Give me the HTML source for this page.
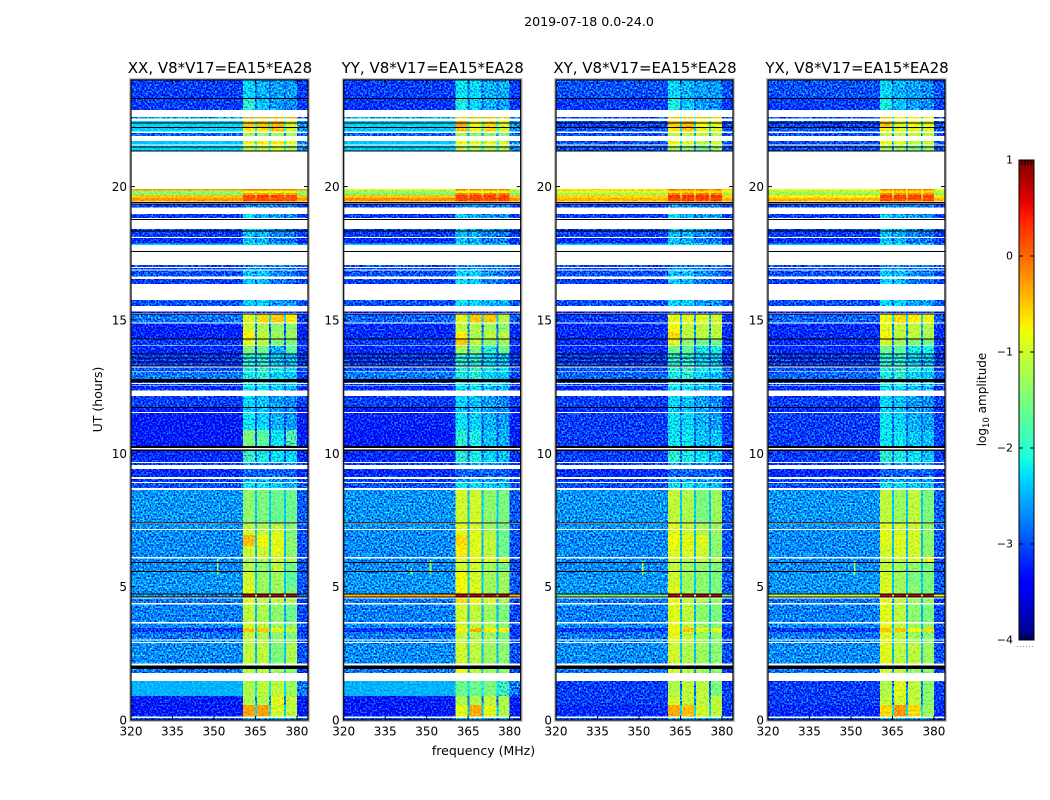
<!DOCTYPE html>
<html>
<head>
<meta charset="utf-8">
<title>2019-07-18 0.0-24.0</title>
<style>
html,body{margin:0;padding:0;background:#fff;}
svg{display:block;font-family:"DejaVu Sans","Liberation Sans",sans-serif;fill:#000;}
</style>
</head>
<body>
<svg id="figure" xmlns="http://www.w3.org/2000/svg" width="1050" height="800" viewBox="0 0 1050 800">
  <defs>
    <filter id="grain-strong" filterUnits="userSpaceOnUse" x="0" y="0" width="1050" height="800" color-interpolation-filters="sRGB">
      <feTurbulence type="fractalNoise" baseFrequency="0.58" numOctaves="1" seed="7" result="t"/>
      <feColorMatrix in="t" type="matrix" values="0.5 0 0 0 0.25  2.4 0 0 0 -0.7  0.8 0 0 0 0.1  0 0 0 0 1" result="n"/>
      <feComposite in="SourceGraphic" in2="n" operator="arithmetic" k1="0" k2="1" k3="1" k4="-0.5" result="m"/>
      <feComposite in="m" in2="SourceAlpha" operator="in"/>
    </filter>
    <filter id="grain-soft" filterUnits="userSpaceOnUse" x="0" y="0" width="1050" height="800" color-interpolation-filters="sRGB">
      <feTurbulence type="fractalNoise" baseFrequency="0.5" numOctaves="1" seed="11" result="t"/>
      <feColorMatrix in="t" type="matrix" values="0.3 0 0 0 0.35  0.6 0 0 0 0.2  0.3 0 0 0 0.35  0 0 0 0 1" result="n"/>
      <feComposite in="SourceGraphic" in2="n" operator="arithmetic" k1="0" k2="1" k3="1" k4="-0.5" result="m"/>
      <feComposite in="m" in2="SourceAlpha" operator="in"/>
    </filter>
    <linearGradient id="jet-gradient" x1="0" y1="1" x2="0" y2="0"></linearGradient>
  </defs>
  <text x="589" y="26" font-size="12.6" text-anchor="middle">2019-07-18 0.0-24.0</text>
  <text x="483.5" y="755" font-size="12.5" text-anchor="middle">frequency (MHz)</text>
  <text transform="translate(102,399.5) rotate(-90)" font-size="12.5" text-anchor="middle">UT (hours)</text>
  <text transform="translate(986,399.5) rotate(-90)" font-size="12" text-anchor="middle">log<tspan font-size="8.5" dy="3">10</tspan><tspan dy="-3"> amplitude</tspan></text>
  <g id="panels"></g>
  <g id="colorbar"></g>
  <line x1="1017" y1="646.5" x2="1035" y2="646.5" stroke="#999" stroke-width="1" stroke-dasharray="1 2"></line>
</svg>
<script>
// ---- axis values ----
const xTicks = [320, 335, 350, 365, 380];
const yTicks = [0, 5, 10, 15, 20];
const colorTicks = [1, 0, -1, -2, -3, -4];
const panelTitles = ['XX, V8*V17=EA15*EA28', 'YY, V8*V17=EA15*EA28', 'XY, V8*V17=EA15*EA28', 'YX, V8*V17=EA15*EA28'];

// frequency channel edges (MHz): off-band | sub-band 1 | gap | 2 | gap | 3 | gap | 4 | off-band
const freqEdges = [320, 360.5, 364.8, 365.5, 369.9, 370.6, 375.3, 376, 380, 384];

// time bands with data [start, end] in UT hours; anything not listed is missing (white)
const bandHours = [
[24,23.32],[23.32,22.87],[22.6,22.56],[22.46,22.24],[22.24,22.07],[22,21.9],[21.71,21.58],[21.54,21.34],
[19.91,19.86],[19.86,19.76],[19.76,19.69],[19.69,19.57],[19.57,19.44],[19.33,19.21],[18.97,18.83],
[18.41,18.11],[18.07,17.87],[17.87,17.81],[17.06,16.99],[16.95,16.89],[16.85,16.62],[16.54,16.35],
[15.75,15.53],[15.31,15.26],[15.2,14.9],[14.86,14.55],[14.55,14.31],[14.31,14.05],[14.02,13.74],
[13.74,13.26],[13.22,13.09],[13.06,12.79],[12.67,12.63],[12.59,12.55],[12.52,12.35],[12.15,11.74],
[11.74,11.55],[11.51,10.87],[10.87,10.27],[10.09,9.67],[9.64,9.57],[9.41,9.11],[9.04,8.92],[8.89,8.7],
[8.62,7.4],[7.34,7.16],[7.12,6.94],[6.94,6.52],[6.52,6.11],[6.06,5.92],[5.91,5.57],[5.57,5.02],[5.02,4.74],
[4.72,4.63],[4.56,4.38],[4.33,3.67],[3.62,3.45],[3.45,3.3],[3.3,3.02],[2.98,2.92],[2.89,2.12],[1.92,1.77],
[1.46,0.9],[0.9,0.56],[0.56,0.13],[0.07,0]
];

// flagged (black) integrations [start, end] in UT hours
const flaggedHours = [
[23.33,23.3],[22.41,22.38],[22.24,22.21],[21.5,21.47],[21.35,21.32],[19.43,19.4],[19.37,19.34],[18.78,18.75],
[18.36,18.33],[17.59,17.56],[15.25,15.22],[14.31,14.28],[13.74,13.71],[13.6,13.57],[13.45,13.42],[13.3,13.27],
[12.79,12.67],[11.74,11.71],[10.27,10.2],[10.14,10.09],[7.4,7.36],[5.93,5.9],[5.58,5.55],[4.75,4.72],[4.63,4.6],
[2.04,1.92]
];

// log10 amplitude per band: [off-band, sub-band 1, 2, 3, 4]
const xxLevels = [
[-3.1,-2.3,-2.5,-2.6,-2.6],[-3.1,-2,-2.4,-2.6,-2.7],[-2.6,-0.4,-0.4,-0.4,-0.4],[-2.35,-0.5,-0.5,-0.4,-0.9],
[-2.35,-0.7,-0.6,-0.5,-1],[-2.9,-1.3,-1.3,-1.3,-1.3],[-2.4,-0.9,-0.7,-0.7,-0.9],[-2.35,-1.1,-1.1,-1,-1.2],
[-0.3,-0.1,-0.1,-0.1,-0.1],[-1.3,-0.8,-0.8,-0.8,-0.8],[-1.5,-0.3,-0.3,-0.3,-0.3],[-0.5,0.15,0.2,0.15,0.15],
[-0.25,0.1,0.15,0.1,0.1],[-3.1,-2.7,-2.7,-2.8,-2.8],[-3.1,-2.2,-2.5,-2.6,-2.6],
[-3.1,-2.4,-2.5,-2.7,-2.8],[-3.2,-2.4,-2.5,-2.8,-2.8],[-2.4,-2.2,-2.2,-2.3,-2.3],[-3,-2.7,-2.7,-2.8,-2.8],
[-3.1,-2.8,-2.8,-2.9,-2.9],[-3,-2.4,-2.4,-2.7,-2.8],[-3.1,-2.3,-2.4,-2.8,-2.9],
[-3,-2.3,-2.3,-2.6,-2.6],[-3.4,-3,-3,-3,-3],[-2.8,-0.9,-0.6,-0.5,-0.7],[-3.25,-1,-1.2,-1.4,-1.4],
[-3.25,-0.7,-1.1,-1.3,-1.3],[-3.1,-0.9,-1.1,-1.5,-1.5],[-3.2,-1.5,-1.6,-2.5,-1.7],
[-3.1,-2,-2,-2.3,-2.4],[-3,-2,-1.9,-2.1,-2.2],[-2.8,-2.1,-2,-2.3,-2.4],[-3.1,-2,-2,-2.2,-2.3],[-3.1,-2.2,-2.2,-2.3,-2.4],
[-3.2,-2.2,-2.2,-2.4,-2.5],[-3.1,-2.3,-2.4,-2.6,-2.7],
[-3.3,-2.4,-2.4,-2.6,-2.7],[-3.3,-2.2,-2.3,-2.5,-2.6],[-3.3,-1.5,-1.7,-2.2,-1.8],[-3.2,-1.9,-2.1,-2.2,-2.3],[-3.1,-2.6,-2.6,-2.7,-2.7],
[-3.2,-2.9,-2.9,-2.9,-2.9],[-3.1,-2.5,-2.5,-2.6,-2.6],[-3,-2.2,-2.2,-2.3,-2.4],
[-2.65,-1.4,-1.5,-1.6,-1.6],[-2.65,-1.1,-1.2,-1.1,-1.4],[-2.7,-1,-1.1,-1,-1.5],[-2.7,-0.45,-0.8,-0.9,-1.4],[-2.7,-1,-1,-0.9,-1.4],
[-2.7,-1.2,-1.2,-1.1,-1.2],[-2.7,-1.2,-1.4,-1.1,-1.6],[-2.65,-1,-1.3,-1.3,-1.7],[-2.65,-0.9,-1.3,-1.3,-1.5],
[-2.6,0.8,0.8,0.8,0.8],[-2.8,-0.9,-1.1,-1.1,-1.2],[-2.75,-1.1,-1.2,-1.4,-1.6],[-2.7,-1,-1.1,-1.3,-1.4],[-3.15,-0.5,-0.5,-0.9,-1],
[-2.8,-1.1,-1.2,-1.4,-1.5],[-2.7,-1.1,-1.1,-1.3,-1.4],[-2.7,-1.1,-1.1,-1.5,-1.2],[-2.8,-1.1,-1.1,-1.3,-1.4],
[-2.5,-1.2,-1.1,-1.1,-1.3],[-3.3,-1.2,-1.2,-0.9,-1.1],[-3.3,-0.3,-0.3,-1,-1.1],[-3,-2.4,-2.4,-2.5,-2.5]
];
const yyLevels = [
[-3.1,-2.2,-2.3,-2.5,-2.5],[-3.15,-2.1,-2.3,-2.5,-2.6],[-2.6,-0.6,-0.5,-0.5,-0.6],[-2.35,-0.35,-0.8,-0.6,-0.9],
[-2.4,-0.5,-0.8,-0.6,-1],[-2.9,-1.3,-1.4,-1.4,-1.4],[-2.4,-0.8,-0.9,-0.9,-1],[-2.4,-1.1,-1.2,-1.2,-1.2],
[-0.9,-0.1,-0.1,-0.1,-0.1],[-1.3,-0.8,-0.8,-0.8,-0.8],[-1.5,-0.1,-0.1,-0.1,-0.1],[-0.5,0.2,0.2,0.2,0.2],
[-0.2,0.15,0.15,0.15,0.15],[-3.1,-2.7,-2.7,-2.8,-2.8],[-3.1,-2.3,-2.5,-2.6,-2.6],
[-3.1,-2.4,-2.5,-2.7,-2.8],[-3.2,-2.4,-2.5,-2.8,-2.8],[-2.4,-2.2,-2.2,-2.3,-2.3],[-3,-2.7,-2.7,-2.8,-2.8],
[-3.1,-2.8,-2.8,-2.9,-2.9],[-3,-2.3,-2.3,-2.7,-2.8],[-3.1,-2.2,-2.3,-2.8,-2.9],
[-3,-2.2,-2.3,-2.5,-2.5],[-3.4,-3,-3,-3,-3],[-2.9,-0.9,-0.5,-0.5,-1.1],[-3.2,-1.1,-1.2,-1.3,-1.4],
[-3.2,-0.7,-1.2,-1.1,-1.1],[-3.1,-0.5,-1.1,-1.4,-1.3],[-3.2,-1.3,-1.5,-2,-1.6],
[-3.1,-2,-2,-2.3,-2.4],[-3,-2,-1.9,-2.1,-2.2],[-2.8,-2.1,-2,-2.3,-2.4],[-3.1,-2,-2,-2.2,-2.3],[-3.1,-2.2,-2.2,-2.3,-2.4],
[-3.2,-2.2,-2.2,-2.4,-2.5],[-3.1,-2.3,-2.4,-2.6,-2.7],
[-3.3,-2.4,-2.4,-2.6,-2.7],[-3.25,-2.2,-2.3,-2.5,-2.6],[-3.3,-2,-2.1,-2.4,-2.5],[-3.2,-2,-2.1,-2.3,-2.4],[-3.1,-2.6,-2.6,-2.7,-2.7],
[-3.2,-2.9,-2.9,-2.9,-2.9],[-3.1,-2.5,-2.5,-2.6,-2.6],[-3,-2.2,-2.2,-2.3,-2.4],
[-2.65,-1,-1,-1.4,-1.5],[-2.65,-0.9,-1,-1.3,-1.5],[-2.7,-0.9,-0.9,-1.2,-1.6],[-2.7,-0.6,-0.9,-1.1,-1.6],[-2.7,-0.7,-0.9,-1.1,-1.6],
[-2.7,-1,-0.9,-0.9,-0.9],[-2.7,-1,-1,-1.3,-1.5],[-2.65,-0.8,-1,-1.3,-1.3],[-2.65,-0.8,-0.9,-1.3,-1.3],
[-0.4,0.8,0.8,0.8,0.8],[-2.8,-0.6,-0.8,-0.9,-1.2],[-2.75,-1,-1.1,-1.3,-1.5],[-2.7,-1,-1.1,-1.2,-1.4],[-3.15,-0.7,-0.4,-0.7,-0.7],
[-2.8,-1.1,-1.2,-1.3,-1.5],[-2.7,-1.1,-1.1,-1.3,-1.4],[-2.7,-1,-1.1,-1.3,-1.4],[-2.8,-0.8,-1.1,-1.3,-1.4],
[-2.5,-1.6,-1.6,-1.5,-1.9],[-3.3,-1.2,-1.2,-1.1,-1.2],[-3.3,-0.9,-0.35,-0.9,-1.2],[-3,-2.4,-2.4,-2.5,-2.5]
];
const xyLevels = [
[-3,-2.3,-2.5,-2.6,-2.6],[-3.1,-2.1,-2.4,-2.6,-2.7],[-3,-0.5,-0.5,-0.5,-0.6],[-3.05,-0.5,-0.4,-0.8,-0.9],
[-3,-0.7,-0.5,-0.85,-0.9],[-3,-1.1,-1.1,-1.1,-1.1],[-3,-0.8,-0.9,-1.1,-1],[-3,-1.3,-1.4,-1.6,-1.3],
[-0.6,-0.1,-0.1,-0.1,-0.1],[-0.9,-0.6,-0.6,-0.6,-0.6],[-1.3,-0.1,-0.1,-0.1,-0.1],[-0.6,0.25,0.25,0.25,0.25],
[-0.4,0.2,0.2,0.2,0.2],[-3.1,-2.7,-2.7,-2.8,-2.8],[-3.1,-2.2,-2.5,-2.6,-2.6],
[-3.1,-2.4,-2.5,-2.7,-2.8],[-3.2,-2.4,-2.5,-2.8,-2.8],[-2.4,-2.2,-2.2,-2.3,-2.3],[-3,-2.7,-2.7,-2.8,-2.8],
[-3.1,-2.8,-2.8,-2.9,-2.9],[-3,-2.4,-2.4,-2.7,-2.8],[-3.1,-2.3,-2.4,-2.8,-2.9],
[-3,-2.3,-2.3,-2.6,-2.6],[-3.4,-3,-3,-3,-3],[-3.1,-0.9,-0.9,-0.9,-1],[-3.2,-0.8,-1.1,-1.1,-1.1],
[-3.2,-0.6,-1.1,-1.1,-1.1],[-3.2,-0.9,-1.4,-1.6,-1.6],[-3.2,-1.6,-1.7,-2.1,-2.1],
[-3.1,-2,-2,-2.3,-2.4],[-3,-2,-1.9,-2.1,-2.2],[-2.9,-2.1,-2,-2.3,-2.4],[-3.1,-2,-2,-2.2,-2.3],[-3.1,-2.2,-2.2,-2.3,-2.4],
[-3.2,-2.2,-2.2,-2.4,-2.5],[-3.1,-2.3,-2.4,-2.6,-2.7],
[-3.2,-2.3,-2.4,-2.6,-2.7],[-3.1,-2.2,-2.3,-2.5,-2.6],[-3.1,-2.2,-2.2,-2.4,-2.4],[-3.1,-2,-2.1,-2.2,-2.4],[-3.1,-2.6,-2.6,-2.7,-2.7],
[-3.2,-2.9,-2.9,-2.9,-2.9],[-3.1,-2.5,-2.5,-2.6,-2.6],[-3,-2.2,-2.2,-2.3,-2.4],
[-2.65,-1.1,-1.2,-1.5,-1.3],[-2.65,-0.9,-1.1,-1.2,-1.3],[-2.7,-0.9,-1,-1.2,-1.3],[-2.7,-0.8,-0.9,-0.9,-1.4],[-2.7,-0.9,-0.9,-1,-1.4],
[-2.7,-1.1,-1.2,-1.1,-1.1],[-2.7,-1.1,-1.3,-1.4,-1.5],[-2.65,-1,-1.3,-1.4,-1.5],[-2.65,-0.9,-1.3,-1.4,-1.5],
[-1.6,0.8,0.8,0.8,0.8],[-2.8,-0.8,-1.1,-1.2,-1.3],[-2.75,-0.9,-1.1,-1.4,-1.5],[-2.7,-0.9,-1.1,-1.3,-1.5],[-3.15,-0.8,-0.5,-0.9,-0.8],
[-2.8,-0.9,-1.1,-1.3,-1.4],[-2.7,-1,-1.1,-1.3,-1.4],[-2.7,-1,-1.2,-1.3,-1.4],[-2.8,-1,-1.1,-1.3,-1.4],
[-3.1,-1.2,-1.1,-1.1,-1.5],[-3.1,-1,-1.1,-1.1,-1.1],[-3.2,-0.35,-0.45,-1,-1.1],[-3,-2.4,-2.4,-2.5,-2.5]
];
const yxLevels = [
[-3,-2.3,-2.5,-2.6,-2.7],[-3.1,-2.1,-2.4,-2.6,-2.7],[-3,-0.5,-0.7,-0.7,-0.7],[-3.05,-0.5,-0.9,-0.8,-0.9],
[-3,-0.8,-0.9,-0.85,-0.9],[-3,-1.1,-1.1,-1.1,-1.1],[-3,-0.8,-0.9,-1.1,-1],[-3,-1.3,-1.3,-1.5,-1.3],
[-0.8,-0.1,-0.1,-0.1,-0.1],[-1.2,-0.6,-0.6,-0.6,-0.6],[-1.4,-0.2,-0.2,-0.2,-0.2],[-0.7,0.2,0.2,0.2,0.2],
[-0.4,0.1,0.1,0.1,0.1],[-3.1,-2.7,-2.7,-2.8,-2.8],[-3.1,-2.2,-2.5,-2.6,-2.6],
[-3.1,-2.4,-2.5,-2.7,-2.8],[-3.2,-2.4,-2.5,-2.8,-2.8],[-2.4,-2.2,-2.2,-2.3,-2.3],[-3,-2.7,-2.7,-2.8,-2.8],
[-3.1,-2.8,-2.8,-2.9,-2.9],[-3,-2.4,-2.4,-2.7,-2.8],[-3.1,-2.3,-2.4,-2.8,-2.9],
[-3,-2.3,-2.3,-2.6,-2.6],[-3.4,-3,-3,-3,-3],[-2.9,-0.8,-0.6,-0.7,-0.8],[-3.2,-0.9,-1.1,-1.1,-1.2],
[-3.2,-0.8,-1.1,-1.1,-1.2],[-3.2,-1,-1.3,-1.5,-1.6],[-3.2,-1.6,-1.7,-2.1,-2.1],
[-3.1,-2,-2,-2.3,-2.4],[-3,-2,-1.9,-2.1,-2.2],[-2.9,-2.1,-2,-2.3,-2.4],[-3.1,-2,-2,-2.2,-2.3],[-3.1,-2.2,-2.2,-2.3,-2.4],
[-3.2,-2.2,-2.2,-2.4,-2.5],[-3.1,-2.3,-2.4,-2.6,-2.7],
[-3.2,-2.3,-2.4,-2.6,-2.7],[-3.1,-2.2,-2.3,-2.5,-2.6],[-3.1,-2.2,-2.2,-2.4,-2.4],[-3.1,-2,-2.1,-2.2,-2.4],[-3.1,-2.6,-2.6,-2.7,-2.7],
[-3.2,-2.9,-2.9,-2.9,-2.9],[-3.1,-2.5,-2.5,-2.6,-2.6],[-3,-2.2,-2.2,-2.3,-2.4],
[-2.65,-1.1,-1.3,-1.1,-1.5],[-2.65,-0.9,-1,-1,-1.4],[-2.7,-0.9,-1,-1,-1.4],[-2.7,-0.9,-0.9,-1,-1.4],[-2.7,-1,-0.95,-1,-1.4],
[-2.7,-1.1,-1.1,-1,-0.7],[-2.7,-1.1,-1.3,-1.4,-1.5],[-2.65,-1,-1.3,-1.5,-1.5],[-2.65,-0.9,-1.3,-1.4,-1.5],
[-1,0.8,0.8,0.8,0.8],[-2.8,-0.9,-1.1,-1.3,-1.3],[-2.75,-0.9,-1.1,-1.4,-1.5],[-2.7,-0.9,-1.1,-1.3,-1.4],[-3.15,-0.5,-0.5,-0.8,-0.6],
[-2.8,-0.9,-1.1,-1.3,-1.4],[-2.7,-0.9,-1.1,-1.3,-1.4],[-2.7,-0.9,-1.1,-1.1,-1.3],[-2.8,-1,-1.1,-1.3,-1.4],
[-3.1,-1.2,-0.9,-1.1,-1.4],[-3.1,-1.1,-1,-1.1,-1.4],[-3.2,-0.6,-0.25,-0.6,-1.3],[-3,-2.4,-2.4,-2.5,-2.5]
];

// narrow-band interference: [frequency MHz, start hour, end hour, log10 amplitude]
const xxSpikes = [[351.1, 6.04, 5.44, -1.3]];
const yySpikes = [[351.1, 6, 5.45, -1.3], [344.2, 5.7, 5.47, -0.9]];
const xySpikes = [[351.1, 5.96, 5.44, -1]];
const yxSpikes = [[351.1, 5.96, 5.44, -1.1]];

// jet colormap anchors [position, value]
const jetRed = [[0,0],[0.35,0],[0.66,1],[0.89,1],[1,0.5]];
const jetGreen = [[0,0],[0.125,0],[0.375,1],[0.64,1],[0.91,0],[1,0]];
const jetBlue = [[0,0.5],[0.11,1],[0.34,1],[0.65,0],[1,0]];

// ---- scales ----
const NS = 'http://www.w3.org/2000/svg';
const FREQ_MIN = 320, FREQ_MAX = 384, HOUR_MAX = 24, LOG_MIN = -4, LOG_MAX = 1;
const PLOT_TOP = 79.9, PLOT_BOTTOM = 720, PANEL_W = 177;
function xScale(freq, left) { return left + (freq - FREQ_MIN) / (FREQ_MAX - FREQ_MIN) * PANEL_W; }
function yScale(hour) { return PLOT_BOTTOM - hour / HOUR_MAX * (PLOT_BOTTOM - PLOT_TOP); }
function cbScale(v) { return 640 - (v - LOG_MIN) / (LOG_MAX - LOG_MIN) * 480; }

function lookup(anchors, t) {
  for (let i = 1; i < anchors.length; i++) {
    if (t <= anchors[i][0]) {
      const a = anchors[i - 1], b = anchors[i];
      return a[1] + (b[1] - a[1]) * (t - a[0]) / (b[0] - a[0]);
    }
  }
  return anchors[anchors.length - 1][1];
}
function jet(v) {
  const t = Math.max(0, Math.min(1, (v - LOG_MIN) / (LOG_MAX - LOG_MIN)));
  return 'rgb(' + Math.round(lookup(jetRed, t) * 255) + ',' + Math.round(lookup(jetGreen, t) * 255) + ',' + Math.round(lookup(jetBlue, t) * 255) + ')';
}
function make(tag, attrs, parent) {
  const el = document.createElementNS(NS, tag);
  for (const k in attrs) el.setAttribute(k, attrs[k]);
  parent.appendChild(el);
  return el;
}
function gapLevel(row) {
  const mean = (row[1] + row[2] + row[3] + row[4]) / 4;
  return Math.max(row[0] + 0.25, mean - 1.6);
}
function channelLevel(row, c) {
  if (c === 0) return row[0];
  if (c === 8) return (row[0] < -2 && row[0] > -2.9) ? row[0] - 0.3 : row[0];
  if (c % 2 === 1) return row[(c + 1) / 2];
  return gapLevel(row);
}

// ---- panels ----
const panelLefts = [131, 343.7, 556, 768];
const panelKeys = ['xx', 'yy', 'xy', 'yx'];
const panelLevels = [xxLevels, yyLevels, xyLevels, yxLevels];
const panelSpikes = [xxSpikes, yySpikes, xySpikes, yxSpikes];
const root = document.getElementById('panels');

panelKeys.forEach(function (key, p) {
  const left = panelLefts[p];
  const levels = panelLevels[p];
  const g = make('g', {}, root);
  
  

  const halo = make('rect', { x: left - 1, y: PLOT_TOP - 1, width: PANEL_W + 2, height: PLOT_BOTTOM - PLOT_TOP + 2, fill: 'none', stroke: '#c4c4c4', 'stroke-width': 2 }, g);
  
  

  const noisyGroup = make('g', { filter: 'url(#grain-strong)', 'shape-rendering': 'crispEdges' }, g);
  
  
  const smoothGroup = make('g', { filter: 'url(#grain-soft)', 'shape-rendering': 'crispEdges' }, g);
  
  

  bandHours.forEach(function (band, r) {
    const y0 = yScale(band[0]), y1 = yScale(band[1]);
    for (let c = 0; c < freqEdges.length - 1; c++) {
      const x0 = xScale(freqEdges[c], left), x1 = xScale(freqEdges[c + 1], left);
      const level = channelLevel(levels[r], c);
      const isOn = c % 2 === 1;
      const noisy = isOn ? level < -1.7 : level < -2.5;
      const cell = make('rect', { x: x0, y: y0, width: x1 - x0, height: Math.max(y1 - y0, 1), fill: jet(level) }, noisy ? noisyGroup : smoothGroup);
      
      
    }
  });

  panelSpikes[p].forEach(function (s) {
    const spike = make('rect', { x: xScale(s[0], left), y: yScale(s[1]), width: 1.6, height: yScale(s[2]) - yScale(s[1]), fill: jet(s[3]), 'shape-rendering': 'crispEdges' }, g);
    
    
  });

  flaggedHours.forEach(function (f) {
    const y0 = yScale(f[0]), y1 = yScale(f[1]);
    const line = make('rect', { x: left, y: y0, width: PANEL_W, height: Math.max(y1 - y0, 1), fill: '#000', 'shape-rendering': 'crispEdges' }, g);
    
    
  });

  const frame = make('rect', { x: left, y: PLOT_TOP, width: PANEL_W, height: PLOT_BOTTOM - PLOT_TOP, fill: 'none', stroke: '#000', 'stroke-width': 1.2 }, g);
  
  

  const title = make('text', { x: left + PANEL_W / 2 + 0.5, y: 73, 'font-size': 15, 'text-anchor': 'middle' }, g);
  title.textContent = panelTitles[p];
  
  

  xTicks.forEach(function (v) {
    const x = xScale(v, left);
    [[PLOT_BOTTOM, PLOT_BOTTOM - 4], [PLOT_TOP, PLOT_TOP + 4]].forEach(function (e) {
      const tick = make('line', { x1: x, x2: x, y1: e[0], y2: e[1], stroke: '#000', 'stroke-width': 1 }, g);
      
      
    });
    const label = make('text', { x: x, y: 735.5, 'font-size': 12, 'text-anchor': 'middle' }, g);
    label.textContent = v;
    
    
  });

  yTicks.forEach(function (v) {
    const y = yScale(v);
    [[left, left + 4], [left + PANEL_W, left + PANEL_W - 4]].forEach(function (e) {
      const tick = make('line', { x1: e[0], x2: e[1], y1: y, y2: y, stroke: '#000', 'stroke-width': 1 }, g);
      
      
    });
    const label = make('text', { x: left - 4, y: y + 4.5, 'font-size': 12, 'text-anchor': 'end' }, g);
    label.textContent = v;
    
    
  });
});

// ---- colorbar ----
const grad = document.getElementById('jet-gradient');
for (let i = 0; i <= 50; i++) {
  const stop = make('stop', { offset: (i / 50), 'stop-color': jet(LOG_MIN + (LOG_MAX - LOG_MIN) * i / 50) }, grad);
}
const cb = document.getElementById('colorbar');
const CB_X = 1019, CB_W = 15;
const cbBar = make('rect', { x: CB_X, y: 160, width: CB_W, height: 480, fill: 'url(#jet-gradient)', stroke: '#000', 'stroke-width': 1 }, cb);


colorTicks.forEach(function (v) {
  const y = cbScale(v);
  [[CB_X, CB_X + 4], [CB_X + CB_W, CB_X + CB_W - 4]].forEach(function (e) {
    const tick = make('line', { x1: e[0], x2: e[1], y1: y, y2: y, stroke: '#000', 'stroke-width': 1 }, cb);
    
    
  });
  const label = make('text', { x: 1013, y: y + 3.5, 'font-size': 11, 'text-anchor': 'end' }, cb);
  label.textContent = (v < 0 ? '\u2212' + Math.abs(v) : String(v));
  
  
});
[0.2, 0.4, 0.6, 0.8].forEach(function (frac) {
  [[160, 165], [640, 635]].forEach(function (e) {
    const minor = make('line', { x1: CB_X + CB_W * frac, x2: CB_X + CB_W * frac, y1: e[0], y2: e[1], stroke: '#000', 'stroke-width': 1 }, cb);
    
    
  });
});
</script>
</body>
</html>
